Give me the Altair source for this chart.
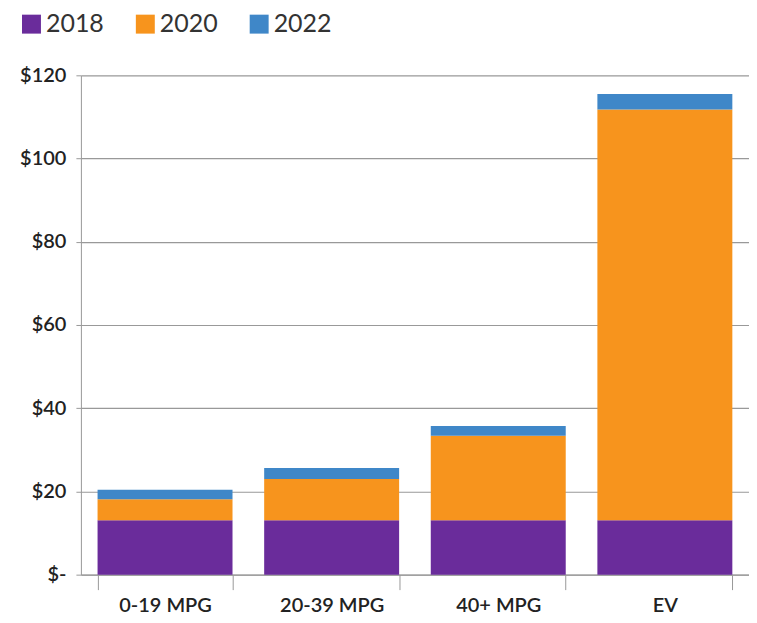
import altair as alt
import pandas as pd

categories = ["0-19 MPG", "20-39 MPG", "40+ MPG", "EV"]
years = ["2018", "2020", "2022"]
v2018 = [13.1, 13.1, 13.1, 13.1]
v2020 = [5.0, 9.9, 20.3, 98.7]
v2022 = [2.3, 2.6, 2.3, 3.7]
colors = ["#6a2c9b", "#f7941d", "#3f87c8"]

rows = []
for i, c in enumerate(categories):
    for k, (y, vals) in enumerate(zip(years, [v2018, v2020, v2022])):
        rows.append({"cat": c, "year": y, "value": vals[i], "ord": k})
df = pd.DataFrame(rows)

font = "Lato"

chart = alt.Chart(df).mark_bar().encode(
    x=alt.X("cat:N", sort=categories, title=None,
            scale=alt.Scale(paddingInner=0.19, paddingOuter=0.1),
            axis=alt.Axis(labelAngle=0, labelFont=font, labelFontSize=20,
                          labelFontWeight=600, labelColor="#222",
                          tickBand="extent", tickSize=15, tickColor="#999",
                          domainColor="#999", labelPadding=6)),
    y=alt.Y("value:Q", title=None,
            scale=alt.Scale(domain=[0, 120], nice=False),
            axis=alt.Axis(values=[0, 20, 40, 60, 80, 100, 120],
                          labelExpr="datum.value == 0 ? '$-' : '$' + datum.value",
                          labelFont=font, labelFontSize=20, labelFontWeight=600,
                          labelColor="#222", tickSize=5, tickColor="#999",
                          labelPadding=10, domainColor="#999",
                          grid=True, gridColor="#999", gridWidth=1.2)),
    color=alt.Color("year:N", scale=alt.Scale(domain=years, range=colors),
                    legend=alt.Legend(title=None, orient="none", legendX=-62,
                                      legendY=-64, direction="horizontal",
                                      symbolType="square", symbolSize=360,
                                      symbolStrokeWidth=0, labelFont=font,
                                      labelFontSize=25, labelColor="#333",
                                      columnPadding=28, labelOffset=2)),
    order=alt.Order("ord:Q", sort="ascending"),
).properties(
    width=669, height=500,
    autosize=alt.AutoSizeParams(type="none"),
    padding={"left": 73, "top": 67, "right": 0, "bottom": 40},
).configure_view(stroke=None)

chart.save("out.html", embed_options={"renderer": "svg", "actions": False})
